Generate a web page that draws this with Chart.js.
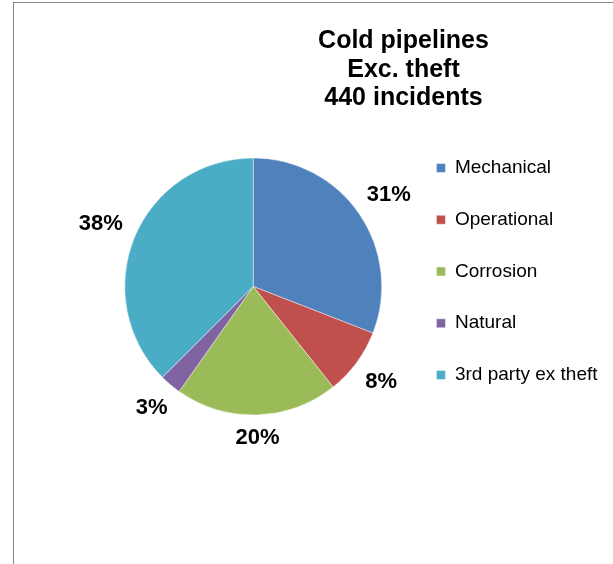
<!DOCTYPE html>
<html>
<head>
<meta charset="utf-8">
<script src="https://cdn.jsdelivr.net/npm/chart.js@4/dist/chart.umd.min.js"></script>
<style>
  html, body { margin: 0; padding: 0; background: #fff; }
  #wrap { position: relative; width: 613px; height: 564px; overflow: hidden; }
  #frame { position: absolute; left: 13px; top: 2px; width: 700px; height: 700px;
           border-left: 1px solid #868686; border-top: 1px solid #868686; }
  canvas { position: absolute; left: 0; top: 0; }
</style>
</head>
<body>
<div id="wrap">
  <div id="frame"></div>
  <canvas id="pie" width="613" height="564"></canvas>
</div>
<script>
// chart data
var categories = ["Mechanical", "Operational", "Corrosion", "Natural", "3rd party ex theft"];
var incidents = [136, 37, 90, 12, 165];
var titleLines = ["Cold pipelines", "Exc. theft", "440 incidents"];

var sliceColors = ["#4f81bd", "#c0504d", "#9bbb59", "#8064a2", "#4bacc6"];
var fontFamily = "'Liberation Sans', Arial, sans-serif";

// title drawn at its own spot, like the excel original
var titlePlugin = {
  id: "sheetTitle",
  afterDraw: function (chart) {
    var ctx = chart.ctx;
    ctx.save();
    ctx.font = "bold 25px " + fontFamily;
    ctx.fillStyle = "#000";
    ctx.textAlign = "center";
    ctx.textBaseline = "alphabetic";
    for (var i = 0; i < titleLines.length; i++) {
      ctx.fillText(titleLines[i], 403.5, 48 + i * 28.5);
    }
    ctx.restore();
  }
};

// percent labels outside each slice
var pctPlugin = {
  id: "pctLabels",
  afterDatasetsDraw: function (chart) {
    var ctx = chart.ctx;
    var meta = chart.getDatasetMeta(0);
    var data = chart.data.datasets[0].data;
    var total = data.reduce(function (a, b) { return a + b; }, 0);
    ctx.save();
    ctx.font = "bold 22px " + fontFamily;
    ctx.fillStyle = "#000";
    ctx.textAlign = "center";
    ctx.textBaseline = "middle";
    meta.data.forEach(function (arc, i) {
      var p = arc.getProps(["x", "y", "startAngle", "endAngle", "outerRadius"], true);
      var mid = (p.startAngle + p.endAngle) / 2;
      var txt = Math.round(data[i] / total * 100) + "%";
      var w = ctx.measureText(txt).width;
      var h = 16;
      var c = Math.cos(mid), s = Math.sin(mid);
      var d = p.outerRadius + 13 + Math.abs(c) * w / 2 + Math.abs(s) * h / 2;
      ctx.fillText(txt, p.x + c * d, p.y + s * d + 1);
    });
    ctx.restore();
  }
};

new Chart(document.getElementById("pie"), {
  type: "pie",
  data: {
    labels: categories,
    datasets: [{
      data: incidents,
      backgroundColor: sliceColors,
      borderColor: "rgba(255,255,255,0.6)",
      borderWidth: 0.75,
      radius: 128.5
    }]
  },
  options: {
    responsive: false,
    animation: false,
    layout: { padding: { left: 102.75, right: 5.5, top: 125.75, bottom: 116.85 } },
    plugins: {
      legend: {
        position: "right",
        align: "start",
        labels: {
          boxWidth: 9,
          boxHeight: 9,
          padding: 32.75,
          color: "#000",
          font: { family: fontFamily, size: 19 }
        }
      },
      title: { display: false },
      tooltip: { enabled: false }
    }
  },
  plugins: [titlePlugin, pctPlugin]
});
</script>
</body>
</html>
